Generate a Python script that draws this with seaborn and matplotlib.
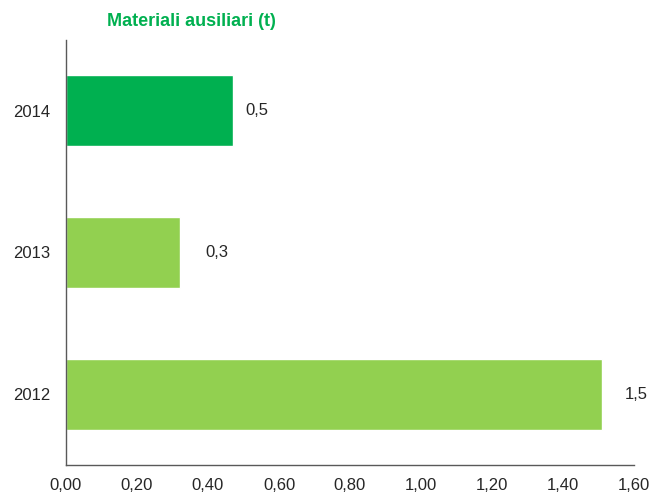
import matplotlib
matplotlib.use("Agg")
import matplotlib.pyplot as plt
import seaborn as sns
import pandas as pd

# data
years = ['2014', '2013', '2012']
values = [0.47, 0.32, 1.51]
labels = ['0,5', '0,3', '1,5']
colors = ['#00B050', '#92D050', '#92D050']
label_pads = [9, 18.5, 16.5]

sns.set_style('white')
plt.rcParams['font.family'] = ['Liberation Sans', 'DejaVu Sans']

df = pd.DataFrame({'Anno': years, 'Valore': values})

fig = plt.figure(figsize=(6.51, 4.93), dpi=100)
ax = fig.add_axes([66 / 651, 1 - 465 / 493, 568 / 651, 425 / 493])

sns.barplot(x='Valore', y='Anno', hue='Anno', data=df, order=years, hue_order=years,
            palette=colors, orient='h', width=0.5, legend=False, ax=ax,
            saturation=1, errorbar=None)

for cont, lab, pad in zip(ax.containers, labels, label_pads):
    ax.bar_label(cont, labels=[lab], padding=pad, fontsize=12, color='#262626')

ax.set_xlim(0, 1.6)
ax.set_ylim(2.5, -0.5)
ticks = [i * 0.2 for i in range(9)]
ax.set_xticks(ticks)
ax.set_xticklabels([f'{t:.2f}'.replace('.', ',') for t in ticks])
ax.set_xlabel('')
ax.set_ylabel('')

for s in ['top', 'right']:
    ax.spines[s].set_visible(False)
for s in ['left', 'bottom']:
    ax.spines[s].set_color('#595959')
    ax.spines[s].set_linewidth(1)

ax.tick_params(axis='x', direction='in', length=4, color='#595959', labelsize=12,
               labelcolor='#262626', pad=9)
ax.tick_params(axis='y', length=0, labelsize=12, labelcolor='#262626', pad=11)

fig.text(191 / 651, 1 - 21 / 493, 'Materiali ausiliari (t)', color='#00B050',
         fontsize=13, fontweight='bold', ha='center', va='center')

fig.savefig('out.png', dpi=100)
